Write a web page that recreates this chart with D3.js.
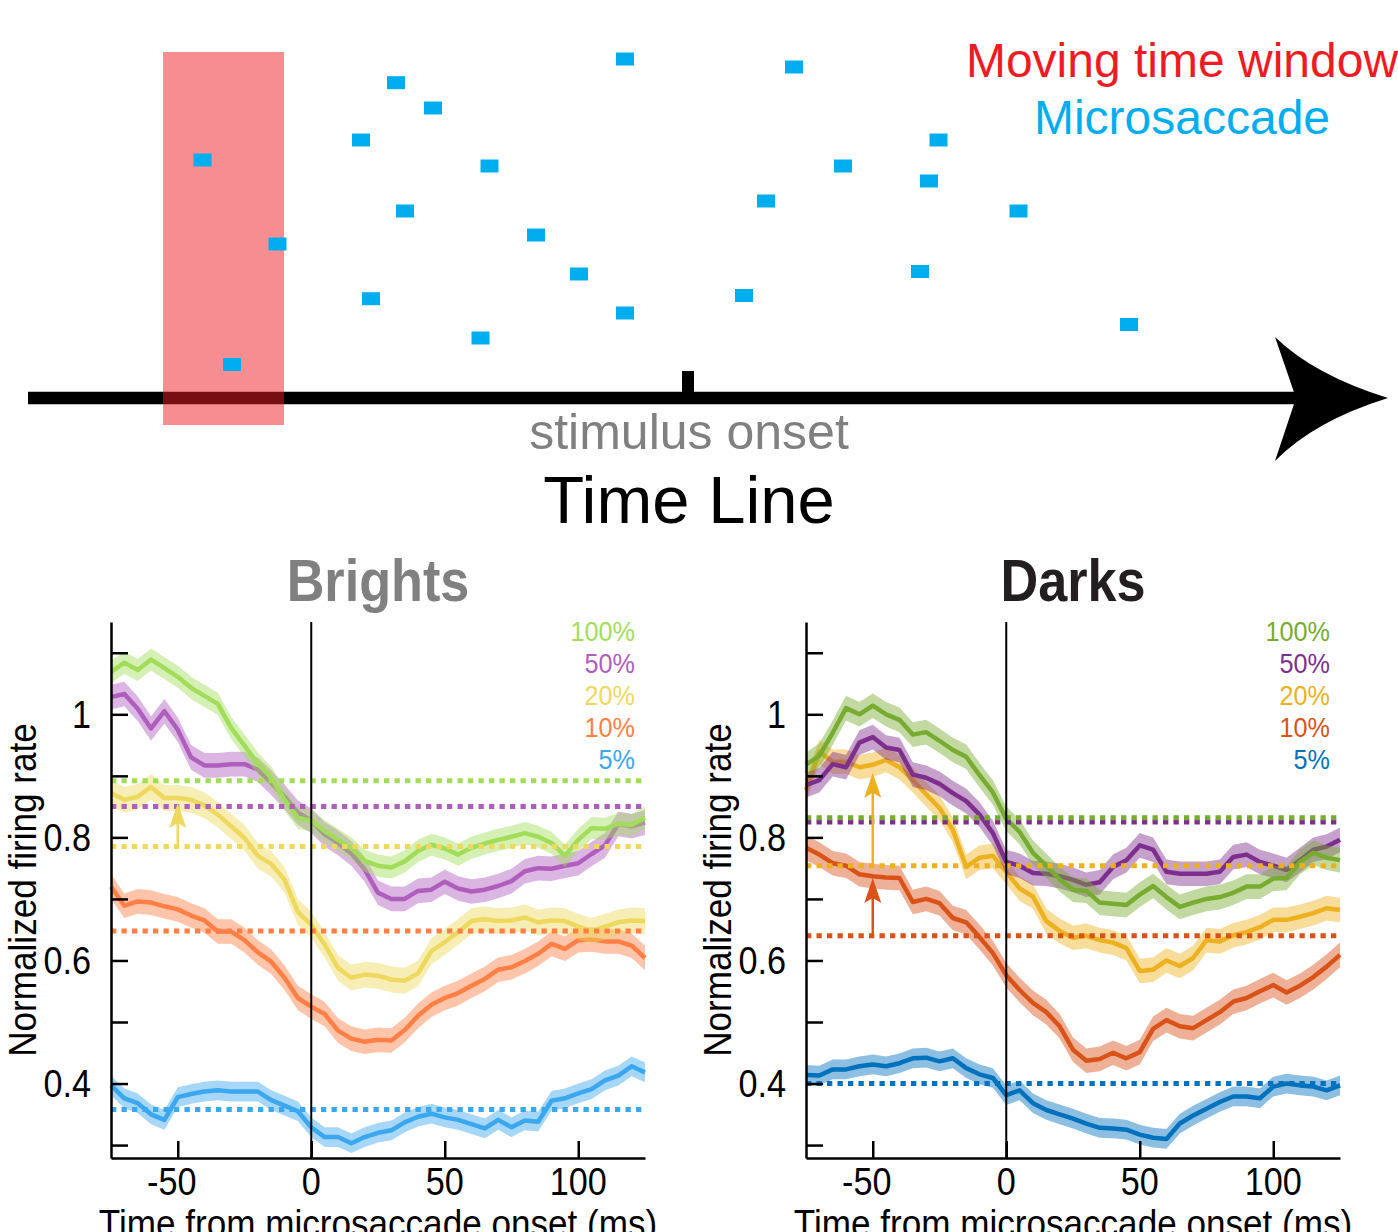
<!DOCTYPE html>
<html><head><meta charset="utf-8">
<script src="https://cdn.jsdelivr.net/npm/d3@7"></script>
<style>html,body{margin:0;padding:0;background:#fff;} svg{display:block;}</style>
</head><body>
<svg id="chart" width="1398" height="1232"></svg>
<script>
// ---------------- Top panel (time line schematic) ----------------
const timelineDomain = [-660, 700];           // ms, relative to stimulus onset
const stimulusOnset = 0;
const windowSpan = [-525, -404];               // moving time window (ms)
const windowLevels = [-27, 346];               // vertical extent (trial units)
const saccadeTimes  = [-485.5, -410.5, -456, -292, -255, -327, -198.5, -283, -152, -109, -317, -207.5, -63, -63, 106, 78, 56, 155, 250.5, 241, 232, 330.5, 441];
const saccadeLevels = [238, 154, 33.5, 315.3, 290, 258, 232, 187, 163, 124, 99.3, 60, 339, 85, 331, 197, 102.5, 232, 258, 217, 126.5, 187, 73.5];

// ---------------- Bottom panels ----------------
const times = [-75,-70,-65,-60,-55,-50,-45,-40,-35,-30,-25,-20,-15,-10,-5,0,5,10,15,20,25,30,35,40,45,50,55,60,65,70,75,80,85,90,95,100,105,110,115,120,125];
const contrastLevels = ['100%', '50%', '20%', '10%', '5%'];

const brightGreen  = [1.069,1.084,1.072,1.089,1.075,1.061,1.043,1.030,1.017,0.978,0.949,0.920,0.897,0.861,0.832,0.827,0.810,0.796,0.782,0.762,0.754,0.751,0.761,0.778,0.788,0.782,0.772,0.783,0.790,0.796,0.801,0.807,0.801,0.791,0.770,0.796,0.815,0.814,0.822,0.820,0.832];
const brightPurple = [1.028,1.033,1.009,0.977,1.005,0.975,0.930,0.917,0.917,0.919,0.919,0.910,0.889,0.866,0.840,0.827,0.805,0.791,0.774,0.748,0.710,0.700,0.700,0.713,0.715,0.728,0.717,0.712,0.715,0.721,0.729,0.745,0.750,0.749,0.754,0.758,0.773,0.787,0.822,0.818,0.824];
const brightYellow = [0.872,0.861,0.866,0.882,0.864,0.864,0.861,0.852,0.837,0.818,0.799,0.770,0.757,0.731,0.679,0.658,0.626,0.588,0.572,0.577,0.575,0.569,0.567,0.579,0.615,0.630,0.646,0.664,0.667,0.664,0.665,0.670,0.662,0.665,0.664,0.655,0.648,0.655,0.662,0.665,0.664];
const brightOrange = [0.720,0.689,0.696,0.694,0.688,0.683,0.673,0.665,0.647,0.647,0.633,0.613,0.598,0.572,0.539,0.525,0.513,0.486,0.473,0.468,0.471,0.470,0.487,0.510,0.528,0.539,0.547,0.559,0.570,0.585,0.589,0.599,0.611,0.627,0.619,0.633,0.634,0.631,0.631,0.624,0.604];
const brightBlue   = [0.397,0.376,0.368,0.350,0.341,0.378,0.383,0.387,0.389,0.387,0.387,0.387,0.373,0.364,0.355,0.329,0.313,0.313,0.303,0.313,0.320,0.324,0.337,0.346,0.351,0.345,0.341,0.334,0.327,0.341,0.329,0.340,0.338,0.372,0.376,0.384,0.391,0.405,0.413,0.428,0.418];

const darkGreen  = [0.918,0.933,0.970,1.010,1.000,1.014,1.000,0.991,0.967,0.971,0.957,0.942,0.931,0.901,0.873,0.830,0.809,0.775,0.754,0.732,0.715,0.713,0.694,0.692,0.690,0.707,0.721,0.703,0.687,0.694,0.700,0.703,0.710,0.720,0.720,0.733,0.734,0.760,0.775,0.767,0.763];
const darkPurple = [0.885,0.893,0.919,0.914,0.954,0.963,0.946,0.942,0.902,0.897,0.887,0.872,0.859,0.837,0.807,0.760,0.754,0.742,0.741,0.737,0.731,0.723,0.727,0.752,0.763,0.787,0.780,0.744,0.741,0.741,0.741,0.744,0.768,0.772,0.760,0.754,0.747,0.763,0.780,0.785,0.796];
const darkYellow = [0.877,0.939,0.923,0.923,0.914,0.918,0.926,0.914,0.893,0.870,0.848,0.812,0.752,0.767,0.770,0.744,0.717,0.704,0.664,0.648,0.637,0.640,0.633,0.629,0.620,0.583,0.585,0.600,0.591,0.604,0.633,0.631,0.641,0.646,0.654,0.666,0.666,0.671,0.677,0.685,0.682];
const darkOrange = [0.783,0.772,0.758,0.754,0.740,0.737,0.735,0.734,0.695,0.700,0.693,0.669,0.662,0.638,0.612,0.576,0.552,0.531,0.516,0.493,0.455,0.437,0.440,0.450,0.441,0.451,0.489,0.503,0.493,0.490,0.503,0.516,0.533,0.539,0.550,0.560,0.548,0.559,0.573,0.590,0.609];
const darkBlue   = [0.414,0.413,0.423,0.423,0.428,0.431,0.428,0.433,0.441,0.442,0.436,0.441,0.425,0.415,0.409,0.381,0.389,0.368,0.357,0.350,0.343,0.335,0.328,0.327,0.325,0.317,0.312,0.310,0.335,0.348,0.359,0.370,0.379,0.379,0.376,0.395,0.400,0.397,0.395,0.389,0.397];

const brightErr = [0.018, 0.020, 0.021, 0.020, 0.016];
const darkErr   = [0.020, 0.020, 0.020, 0.020, 0.016];
const brightBaselines = [0.892, 0.850, 0.785, 0.648, 0.358];
const darkBaselines   = [0.832, 0.825, 0.754, 0.640, 0.400];
const brightColors = ['#A2DD5A', '#B05EBE', '#EED95E', '#FF7F45', '#3AA7EE'];
const darkColors   = ['#77AC30', '#7E2F8E', '#EDB120', '#D95319', '#0072BD'];
const brightArrows = [{level: '20%', t: -50, from: 0.785, to: 0.856}];
const darkArrows   = [{level: '20%', t: -50, from: 0.754, to: 0.905}, {level: '10%', t: -50, from: 0.640, to: 0.734}];

const xTickValues = [-50, 0, 50, 100];
const yTickValues = [0.3, 0.4, 0.5, 0.6, 0.7, 0.8, 0.9, 1.0, 1.1];
const yTickLabels = [0.4, 0.6, 0.8, 1];
const xDomain = [-75, 125];
const yDomain = [0.279, 1.150];

// ---------------- Drawing ----------------
const FONT = "'Liberation Sans', Arial, Helvetica, sans-serif";
const svg = d3.select('#chart');

// Top panel
(function drawTop() {
  const xT = d3.scaleLinear().domain(timelineDomain).range([28, 1388]);
  const yT = d3.scaleLinear().domain([0, 360]).range([398, 38]);
  const g = svg.append('g');
  const lineY = yT(0);
  const tipX = xT(timelineDomain[1]);
  // shaft
  g.append('line').attr('x1', xT(timelineDomain[0])).attr('x2', tipX - 88)
    .attr('y1', lineY).attr('y2', lineY).attr('stroke', '#000').attr('stroke-width', 12.5);
  // arrowhead with concave back
  const p = d3.path();
  p.moveTo(tipX, lineY);
  p.quadraticCurveTo(tipX - 74, lineY - 23, tipX - 113, lineY - 61);
  p.lineTo(tipX - 92, lineY);
  p.lineTo(tipX - 113, lineY + 63);
  p.quadraticCurveTo(tipX - 74, lineY + 23, tipX, lineY);
  p.closePath();
  g.append('path').attr('d', p.toString()).attr('fill', '#000');
  // stimulus onset tick
  g.append('rect').attr('x', xT(stimulusOnset) - 6).attr('y', lineY - 27)
    .attr('width', 12).attr('height', 27).attr('fill', '#000');
  // moving window
  g.append('rect').attr('x', xT(windowSpan[0])).attr('width', xT(windowSpan[1]) - xT(windowSpan[0]))
    .attr('y', yT(windowLevels[1])).attr('height', yT(windowLevels[0]) - yT(windowLevels[1]))
    .attr('fill', '#ED1C24').attr('fill-opacity', 0.5);
  // microsaccades
  g.selectAll('rect.ms').data(saccadeTimes.map((t, i) => ({t, l: saccadeLevels[i]})))
    .join('rect').attr('class', 'ms')
    .attr('x', d => xT(d.t) - 9).attr('y', d => yT(d.l) - 6.5)
    .attr('width', 18).attr('height', 13).attr('fill', '#00AEEF');
  // texts
  g.append('text').attr('x', 1182).attr('y', 77).attr('text-anchor', 'middle')
    .attr('font-family', FONT).attr('font-size', 48).attr('fill', '#ED1C24').text('Moving time window');
  g.append('text').attr('x', 1182).attr('y', 134).attr('text-anchor', 'middle')
    .attr('font-family', FONT).attr('font-size', 48).attr('fill', '#00AEEF').text('Microsaccade');
  g.append('text').attr('x', xT(stimulusOnset) + 1).attr('y', 449).attr('text-anchor', 'middle')
    .attr('font-family', FONT).attr('font-size', 50).attr('fill', '#808080').text('stimulus onset');
  g.append('text').attr('x', xT(stimulusOnset) + 1).attr('y', 523).attr('text-anchor', 'middle')
    .attr('font-family', FONT).attr('font-size', 67).attr('fill', '#000').text('Time Line');
})();

function drawPanel(cfg) {
  const x = d3.scaleLinear().domain(xDomain).range([cfg.left, cfg.left + 534]);
  const y = d3.scaleLinear().domain(yDomain).range([1158, 622]);
  const g = svg.append('g');

  // bands + mean lines (5% first so 100% is on top)
  for (let i = cfg.series.length - 1; i >= 0; i--) {
    const vals = cfg.series[i];
    const err = cfg.err[i];
    const pts = times.map((t, k) => ({t, v: vals[k]}));
    const area = d3.area().x(d => x(d.t)).y0(d => y(d.v - err)).y1(d => y(d.v + err));
    g.append('path').attr('d', area(pts)).attr('fill', cfg.colors[i]).attr('fill-opacity', 0.45);
    const line = d3.line().x(d => x(d.t)).y(d => y(d.v));
    g.append('path').attr('d', line(pts)).attr('fill', 'none').attr('stroke', cfg.colors[i])
      .attr('stroke-width', 4.5).attr('stroke-linejoin', 'round');
  }
  // baselines (dotted)
  for (let i = cfg.baselines.length - 1; i >= 0; i--) {
    g.append('line').attr('x1', x(xDomain[0])).attr('x2', x(xDomain[1]))
      .attr('y1', y(cfg.baselines[i])).attr('y2', y(cfg.baselines[i]))
      .attr('stroke', cfg.colors[i]).attr('stroke-width', 5).attr('stroke-dasharray', '5.3,5.2');
  }
  // zero line
  g.append('line').attr('x1', x(0)).attr('x2', x(0)).attr('y1', y(yDomain[1])).attr('y2', y(yDomain[0]))
    .attr('stroke', '#000').attr('stroke-width', 2);
  // arrows
  cfg.arrows.forEach(a => {
    const col = cfg.colors[contrastLevels.indexOf(a.level)];
    const ax = x(a.t), yTip = y(a.to), yBase = y(a.from);
    g.append('line').attr('x1', ax).attr('x2', ax).attr('y1', yBase).attr('y2', yTip + 18)
      .attr('stroke', col).attr('stroke-width', 2.5);
    const hp = d3.path();
    hp.moveTo(ax, yTip);
    hp.lineTo(ax + 8.5, yTip + 25);
    hp.lineTo(ax, yTip + 20);
    hp.lineTo(ax - 8.5, yTip + 25);
    hp.closePath();
    g.append('path').attr('d', hp.toString()).attr('fill', col);
  });
  // axes
  const ya = g.append('g').attr('transform', `translate(${cfg.left},0)`)
    .call(d3.axisLeft(y).tickValues(yTickValues).tickSize(-17).tickSizeOuter(0).tickFormat(''));
  const xa = g.append('g').attr('transform', `translate(0,1158)`)
    .call(d3.axisBottom(x).tickValues(xTickValues).tickSize(-17).tickSizeOuter(0).tickFormat(''));
  [ya, xa].forEach(a => { a.selectAll('path,line').attr('stroke', '#000').attr('stroke-width', 2.5); a.selectAll('text').remove(); });

  // tick labels
  yTickLabels.forEach(v => {
    g.append('text').attr('transform', `translate(${cfg.left - 20},${y(v) + 13.5}) scale(0.9,1)`)
      .attr('text-anchor', 'end').attr('font-family', FONT).attr('font-size', 38).attr('fill', '#000')
      .text(d3.format('~g')(v));
  });
  xTickValues.forEach(t => {
    g.append('text').attr('transform', `translate(${x(t) + (t < 0 ? -6 : 0)},1195) scale(0.9,1)`)
      .attr('text-anchor', 'middle').attr('font-family', FONT).attr('font-size', 38).attr('fill', '#000')
      .text(t);
  });
  // axis titles (the x title sits partly below the bottom edge, as in the reference)
  g.append('text').attr('transform', `translate(${cfg.left + 267},1237) scale(0.9,1)`)
    .attr('text-anchor', 'middle').attr('font-family', FONT).attr('font-size', 39).attr('fill', '#000')
    .text('Time from microsaccade onset (ms)');
  g.append('text').attr('transform', `translate(${cfg.left - 75},890) rotate(-90) scale(0.9,1)`)
    .attr('text-anchor', 'middle').attr('font-family', FONT).attr('font-size', 39).attr('fill', '#000')
    .text('Normalized firing rate');
  // title
  g.append('text').attr('transform', `translate(${cfg.left + 267},601) scale(0.87,1)`)
    .attr('text-anchor', 'middle').attr('font-family', FONT).attr('font-size', 60).attr('font-weight', 'bold')
    .attr('fill', cfg.titleColor).text(cfg.title);
  // legend
  contrastLevels.forEach((lab, i) => {
    g.append('text').attr('transform', `translate(${cfg.left + 524},${641 + 32 * i}) scale(0.9,1)`)
      .attr('text-anchor', 'end').attr('font-family', FONT).attr('font-size', 28)
      .attr('fill', cfg.colors[i]).text(lab);
  });
}

drawPanel({left: 111, title: 'Brights', titleColor: '#808080',
  series: [brightGreen, brightPurple, brightYellow, brightOrange, brightBlue],
  err: brightErr, baselines: brightBaselines, colors: brightColors, arrows: brightArrows});
drawPanel({left: 806, title: 'Darks', titleColor: '#231F20',
  series: [darkGreen, darkPurple, darkYellow, darkOrange, darkBlue],
  err: darkErr, baselines: darkBaselines, colors: darkColors, arrows: darkArrows});
</script>
</body></html>
